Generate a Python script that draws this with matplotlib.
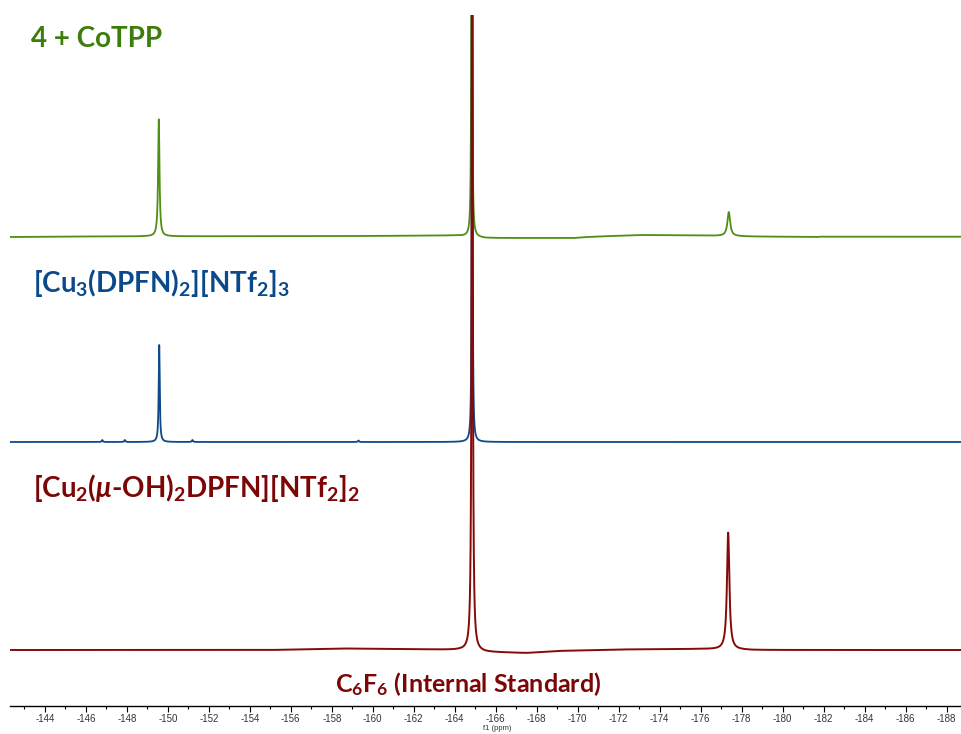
import numpy as np
import matplotlib as mpl
import matplotlib.pyplot as plt

# peak tables: position (ppm), height, half width (ppm)
green_peaks_ppm = [-149.56, -164.83, -177.37]
green_peaks_h = [117, 600, 24]
green_peaks_w = [0.04, 0.02, 0.08]
green_base_ppm = [-142.3, -145.3, -159.3, -164.0, -165.5, -169.8, -170.3, -171.0, -173.0, -176.0, -178.5, -181.7, -181.8, -188.7]
green_base_y = [0, 0.5, 1, 1.5, -1, -1, -0.2, 0.5, 2, 1.5, 0.5, 0, 0.3, 0.3]

blue_peaks_ppm = [-146.8, -147.9, -149.58, -151.2, -159.3, -164.85]
blue_peaks_h = [2, 2, 97, 2, 1.5, 1000]
blue_peaks_w = [0.03, 0.03, 0.03, 0.03, 0.03, 0.015]
blue_base_ppm = [-142.3, -188.7]
blue_base_y = [0, 0]

red_peaks_ppm = [-164.85, -177.34]
red_peaks_h = [800, 117]
red_peaks_w = [0.03, 0.07]
red_base_ppm = [-142.3, -155.0, -158.5, -161.5, -164.3, -165.5, -167.5, -169.0, -172.0, -176.0, -178.5, -188.7]
red_base_y = [0, 0, 1.5, 1, 0, -2, -3, -1, 0.5, 1, 0, 0]

offsets = {"red": 0, "blue": 208, "green": 413}
colors = {"green": "#4f8f14", "blue": "#0c4a8a", "red": "#850a0a"}
label_colors = {"green": "#3c7d0c", "blue": "#0b4a8a", "red": "#7c0505"}

xmin, xmax = -142.3, -188.7


def spectrum(x, ppm, h, w, base_ppm, base_y):
    y = np.interp(x, base_ppm[::-1], base_y[::-1])
    for p, hh, ww in zip(ppm, h, w):
        y = y + hh * ww**2 / ((x - p)**2 + ww**2)
    return y


plt.rcParams['font.family'] = ['Lato', 'DejaVu Sans']
plt.rcParams['mathtext.fontset'] = 'custom'
plt.rcParams['mathtext.rm'] = 'Lato:bold'
plt.rcParams['mathtext.it'] = 'Lato:bold:italic'
plt.rcParams['mathtext.bf'] = 'Lato:bold'
plt.rcParams['axes.unicode_minus'] = False

W, H = 961, 734
fig = plt.figure(figsize=(W / 100, H / 100), dpi=100)
ax = fig.add_axes([10 / W, 28 / H, (W - 10) / W, (706 - 15) / H])

x = np.arange(xmin, xmax, -0.002)
yg = spectrum(x, green_peaks_ppm, green_peaks_h, green_peaks_w, green_base_ppm, green_base_y)
yb = spectrum(x, blue_peaks_ppm, blue_peaks_h, blue_peaks_w, blue_base_ppm, blue_base_y)
yr = spectrum(x, red_peaks_ppm, red_peaks_h, red_peaks_w, red_base_ppm, red_base_y)

ax.plot(x, yg + offsets["green"], color=colors["green"], lw=1.3)
ax.plot(x, yb + offsets["blue"], color=colors["blue"], lw=1.3)
ax.plot(x, yr + offsets["red"], color=colors["red"], lw=1.4)

ax.set_xlim(xmin, xmax)
ax.set_ylim(-56, 635)
for s in ["top", "left", "right"]:
    ax.spines[s].set_visible(False)
ax.spines["bottom"].set_linewidth(1.0)
ax.set_yticks([])
ax.set_xticks(np.arange(-144, -189, -2))
ax.set_xticks(np.arange(-143, -189, -1), minor=True)
ax.set_xticklabels([str(v) for v in range(-144, -189, -2)], fontsize=7,
                   family='Liberation Sans', color="#333333")
ax.tick_params(axis='x', which='major', length=4, width=0.8, pad=2)
ax.tick_params(axis='x', which='minor', length=2.5, width=0.8)

# axis title sits just under the tick labels
fig.text(497 / W, 1 - 729 / H, "f1 (ppm)", fontsize=5.5, family='Liberation Sans',
         color="#333333", ha='center', va='center')

fig.text(31 / W, 1 - 47 / H, "4 + CoTPP", fontsize=20, fontweight='bold',
         color=label_colors["green"], va='baseline')
fig.text(33 / W, 1 - 292 / H, "[Cu$_3$(DPFN)$_2$][NTf$_2$]$_3$", fontsize=20, fontweight='bold',
         color=label_colors["blue"], va='baseline')
fig.text(33 / W, 1 - 497 / H, r"[Cu$_2$($\mu$-OH)$_2$DPFN][NTf$_2$]$_2$", fontsize=20, fontweight='bold',
         color=label_colors["red"], va='baseline')
fig.text(468 / W, 1 - 692 / H, "C$_6$F$_6$ (Internal Standard)", fontsize=18, fontweight='bold',
         color=label_colors["red"], va='baseline', ha='center')

fig.savefig("out.png", dpi=100)
